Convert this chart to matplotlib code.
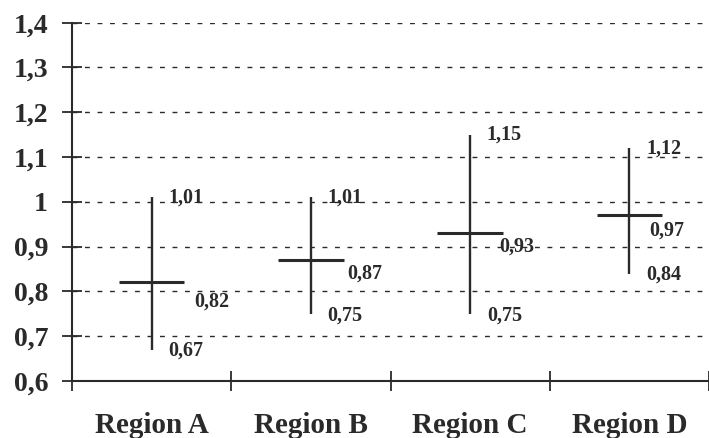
import numpy as np
import matplotlib.pyplot as plt
from matplotlib.ticker import FixedLocator, FuncFormatter

plt.rcParams['font.family'] = ['Liberation Serif', 'DejaVu Serif']
plt.rcParams['font.weight'] = 'bold'

# data
regions = ['Region A', 'Region B', 'Region C', 'Region D']
high = [1.01, 1.01, 1.15, 1.12]
low = [0.67, 0.75, 0.75, 0.84]
mean = [0.82, 0.87, 0.93, 0.97]

# mean-label offsets (points), as placed in the reference
mean_dx = [31, 26, 21, 14]
mean_dy = [-14, -10, -10, -11]

ink = '#2a2a2a'

fig = plt.figure(figsize=(7.09, 4.38), dpi=100)
ax = fig.add_axes([72 / 709, 1 - 381 / 438, 637 / 709, (381 - 22.7) / 438])

x = np.arange(1, len(regions) + 1)
ax.vlines(x, low, high, color=ink, lw=1.7)
ax.hlines(mean, x - 0.205, x + 0.205, color=ink, lw=2.2)

for xi, h, l, m, dx, dy in zip(x, high, low, mean, mean_dx, mean_dy):
    fmt = lambda v: ('%.2f' % v).replace('.', ',')
    ax.annotate(fmt(h), (xi, h), xytext=(12, 0), textcoords='offset points',
                va='center', ha='left', fontsize=14.5, color=ink)
    ax.annotate(fmt(l), (xi, l), xytext=(12, -1), textcoords='offset points',
                va='center', ha='left', fontsize=14.5, color=ink)
    ax.annotate(fmt(m), (xi, m), xytext=(dx, dy), textcoords='offset points',
                va='center', ha='left', fontsize=14.5, color=ink)

ax.set_xlim(0.5, 4.5)
ax.set_ylim(0.6, 1.4)

yt = np.round(np.arange(0.6, 1.41, 0.1), 1)
ax.set_yticks(yt)
ax.yaxis.set_major_formatter(FuncFormatter(
    lambda v, p: ('%g' % round(v, 1)).replace('.', ',')))
ax.yaxis.grid(True, linestyle=(0, (3.5, 5.5)), color=ink, lw=1.0)
ax.set_axisbelow(True)

ax.xaxis.set_major_locator(FixedLocator([0.5, 1.5, 2.5, 3.5, 4.5]))
ax.xaxis.set_major_formatter(FuncFormatter(lambda v, p: ''))
ax.xaxis.set_minor_locator(FixedLocator(x))
ax.set_xticklabels(regions, minor=True)

ax.tick_params(axis='both', which='major', direction='inout', length=14.4,
               width=1.3, color=ink, labelsize=20, labelcolor=ink)
ax.tick_params(axis='y', which='major', pad=10)
ax.tick_params(axis='x', which='minor', length=0, pad=22, labelsize=21,
               labelcolor=ink)

for s in ['top', 'right']:
    ax.spines[s].set_visible(False)
for s in ['left', 'bottom']:
    ax.spines[s].set_color(ink)
    ax.spines[s].set_linewidth(1.5)
ax.spines['left'].set_zorder(3)

fig.savefig('out.png', dpi=100)
